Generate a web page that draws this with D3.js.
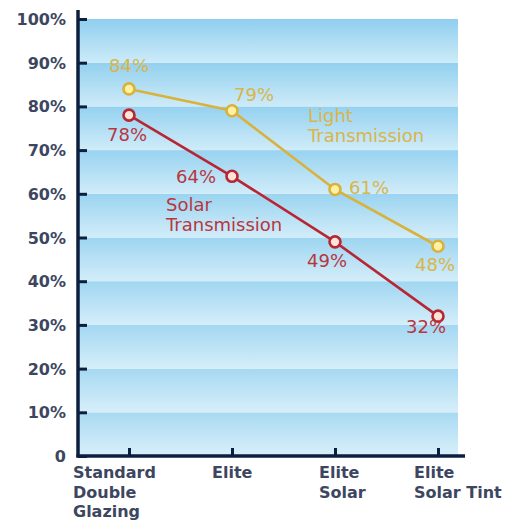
<!DOCTYPE html>
<html>
<head>
<meta charset="utf-8">
<script src="https://cdn.jsdelivr.net/npm/d3@7"></script>
<style>
  body { margin: 0; background: #fff; }
  svg { display: block; }
  .tick-label { font-family: "DejaVu Sans", sans-serif; font-weight: bold; font-size: 16px; fill: #3d4660; }
  .val { font-family: "DejaVu Sans", sans-serif; font-size: 18px; }
</style>
</head>
<body>
<svg id="chart" width="517" height="520"></svg>
<script>
// data
var categories = ["Standard Double Glazing", "Elite", "Elite Solar", "Elite Solar Tint"];
var categoryLines = [["Standard", "Double", "Glazing"], ["Elite"], ["Elite", "Solar"], ["Elite", "Solar Tint"]];
var lightValues = [84, 79, 61, 48];
var solarValues = [78, 64, 49, 32];
var yTicks = [0, 10, 20, 30, 40, 50, 60, 70, 80, 90, 100];
var seriesNames = { light: ["Light", "Transmission"], solar: ["Solar", "Transmission"] };

var svg = d3.select("#chart");

var x = d3.scalePoint()
    .domain(categories)
    .range([129, 438]);

var y = d3.scaleLinear()
    .domain([0, 100])
    .range([456, 19]);

var plotLeft = 78, plotRight = 458;

// band gradient
var defs = svg.append("defs");
var grad = defs.append("linearGradient")
    .attr("id", "band")
    .attr("x1", 0).attr("y1", 0).attr("x2", 0).attr("y2", 1);
grad.append("stop").attr("offset", "0%").attr("stop-color", "#8fcfef");
grad.append("stop").attr("offset", "100%").attr("stop-color", "#cbeaf8");

var bands = d3.range(0, 100, 10);
svg.append("g").selectAll("rect")
    .data(bands)
  .enter().append("rect")
    .attr("x", plotLeft)
    .attr("width", plotRight - plotLeft)
    .attr("y", d => y(d + 10))
    .attr("height", d => y(d) - y(d + 10))
    .style("fill", "url(#band)");

// lighten lower part a little
var fade = defs.append("linearGradient")
    .attr("id", "fade")
    .attr("x1", 0).attr("y1", 0).attr("x2", 0).attr("y2", 1);
fade.append("stop").attr("offset", "0%").attr("stop-color", "#fff").attr("stop-opacity", 0);
fade.append("stop").attr("offset", "100%").attr("stop-color", "#fff").attr("stop-opacity", 0.25);
svg.append("rect")
    .attr("x", plotLeft).attr("width", plotRight - plotLeft)
    .attr("y", y(100)).attr("height", y(0) - y(100))
    .style("fill", "url(#fade)");

// axes
var yAxis = svg.append("g")
    .attr("transform", "translate(" + plotLeft + ",0)")
    .call(d3.axisRight(y).tickValues(yTicks).tickSize(9).tickFormat(""));
yAxis.select(".domain").remove();
yAxis.selectAll("line").attr("stroke", "#0d1f3f").attr("stroke-width", 3);

svg.append("line")
    .attr("x1", plotLeft).attr("x2", plotLeft)
    .attr("y1", 10).attr("y2", y(0) + 1.5)
    .attr("stroke", "#0d1f3f").attr("stroke-width", 3.5);

svg.selectAll(".ylab")
    .data(yTicks)
  .enter().append("text")
    .attr("class", "tick-label")
    .attr("x", 66)
    .attr("y", d => y(d) + 6)
    .attr("text-anchor", "end")
    .text(d => d === 0 ? "0" : d + "%");

var xAxis = svg.append("g")
    .attr("transform", "translate(0," + y(0) + ")")
    .call(d3.axisTop(x).tickSize(8).tickFormat(""));
xAxis.select(".domain").remove();
xAxis.selectAll("line").attr("stroke", "#0d1f3f").attr("stroke-width", 3);

svg.append("line")
    .attr("x1", plotLeft - 1.5).attr("x2", 465)
    .attr("y1", y(0)).attr("y2", y(0))
    .attr("stroke", "#0d1f3f").attr("stroke-width", 3.5);

var labelShift = [-56, -20, -16, -24];
svg.selectAll(".xlab")
    .data(categories)
  .enter().append("text")
    .attr("class", "tick-label")
    .attr("x", (d, i) => x(d) + labelShift[i])
    .attr("y", 478)
    .each(function(d, i) {
      var t = d3.select(this);
      categoryLines[i].forEach(function(line, j) {
        t.append("tspan")
          .attr("x", x(d) + labelShift[i])
          .attr("y", 478 + j * 19.5)
          .text(line);
      });
    });

// lines
var line = d3.line()
    .x((d, i) => x(categories[i]))
    .y(d => y(d));

var series = [
  { key: "light", values: lightValues, stroke: "#d8b23c", fill: "#fff0a2", text: "#d9b54a",
    labels: [[0, -17, "middle"], [22, -10, "middle"], [14, 5, "start"], [-3, 25, "middle"]],
    name: [308, 122] },
  { key: "solar", values: solarValues, stroke: "#b72733", fill: "#ffe2d8", text: "#b8363f",
    labels: [[-2, 26, "middle"], [-16, 7, "end"], [-8, 25, "middle"], [-12, 17, "middle"]],
    name: [166, 211] }
];

series.forEach(function(s) {
  svg.append("path")
      .datum(s.values)
      .attr("d", line)
      .attr("fill", "none")
      .attr("stroke", s.stroke)
      .attr("stroke-width", 2.6);

  svg.selectAll(".pt-" + s.key)
      .data(s.values)
    .enter().append("circle")
      .attr("cx", (d, i) => x(categories[i]))
      .attr("cy", d => y(d))
      .attr("r", 5.5)
      .attr("fill", s.fill)
      .attr("stroke", s.stroke)
      .attr("stroke-width", 2.6);

  svg.selectAll(".val-" + s.key)
      .data(s.values)
    .enter().append("text")
      .attr("class", "val")
      .attr("x", (d, i) => x(categories[i]) + s.labels[i][0])
      .attr("y", (d, i) => y(d) + s.labels[i][1])
      .attr("text-anchor", (d, i) => s.labels[i][2])
      .style("fill", s.text)
      .text(d => d + "%");

  var nm = svg.append("text")
      .attr("class", "val")
      .style("fill", s.text);
  seriesNames[s.key].forEach(function(w, j) {
    nm.append("tspan")
      .attr("x", s.name[0])
      .attr("y", s.name[1] + j * 20)
      .text(w);
  });
});
</script>
</body>
</html>
